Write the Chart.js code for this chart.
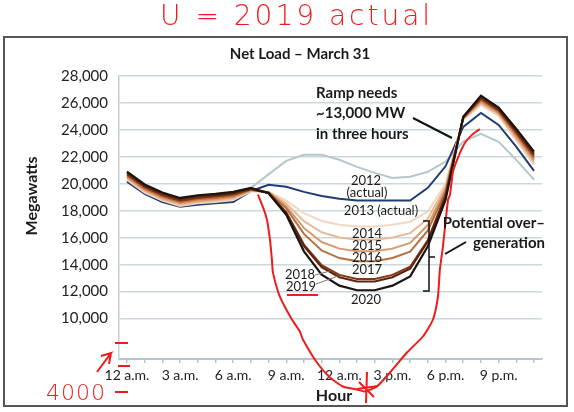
<!DOCTYPE html>
<html>
<head>
<meta charset="utf-8">
<title>Net Load - March 31</title>
<script src="https://cdn.jsdelivr.net/npm/chart.js@4.4.1/dist/chart.umd.min.js"></script>
<style>
    html, body { margin: 0; padding: 0; background: #fff; }
    canvas { display: block; }
</style>
</head>
<body>
<canvas id="duckChart" width="574" height="412"></canvas>
<script>
// Hours of the day and axis labels
const hours = [0, 1, 2, 3, 4, 5, 6, 7, 8, 9, 10, 11, 12, 13, 14, 15, 16, 17, 18, 19, 20, 21, 22, 23];
const hourLabels = ['12 a.m.', '3 a.m.', '6 a.m.', '9 a.m.', '12 a.m.', '3 p.m.', '6 p.m.', '9 p.m.'];
const yTicks = [10000, 12000, 14000, 16000, 18000, 20000, 22000, 24000, 26000, 28000];

// Net load (MW)
const load2012 = [20250, 19300, 18700, 18350, 18500, 18600, 18750, 19700, 20700, 21700, 22150, 22150, 21780, 21260, 20810, 20440, 20520, 20890, 21650, 23130, 23700, 23110, 21780, 20300];
const load2013 = [20150, 19250, 18650, 18300, 18450, 18550, 18650, 19450, 19930, 19780, 19400, 19100, 18900, 18760, 18760, 18760, 18760, 19700, 21300, 24220, 25260, 24370, 22740, 20960];
const load2014 = [20300, 19350, 18750, 18350, 18550, 18650, 18800, 19440, 19420, 18750, 17830, 17240, 16960, 16840, 16840, 16960, 17190, 17950, 20000, 24750, 25850, 25040, 23200, 21410];
const load2015 = [20400, 19450, 18850, 18450, 18650, 18750, 18900, 19480, 19400, 18530, 17230, 16400, 16010, 15850, 15850, 16010, 16340, 17410, 19800, 24800, 25960, 25150, 23350, 21580];
const load2016 = [20500, 19550, 18950, 18550, 18750, 18850, 19000, 19520, 19380, 18340, 16720, 15680, 15190, 14990, 14990, 15190, 15610, 16940, 19600, 24840, 26080, 25250, 23500, 21740];
const load2017 = [20600, 19650, 19050, 18650, 18850, 18950, 19100, 19560, 19360, 18180, 16280, 15060, 14490, 14250, 14250, 14490, 14970, 16540, 19400, 24880, 26200, 25350, 23640, 21900];
const load2018 = [20700, 19750, 19150, 18750, 18950, 19050, 19200, 19600, 19340, 17890, 15490, 13960, 13240, 12940, 12940, 13240, 13850, 15820, 19200, 24920, 26320, 25450, 23790, 22070];
const load2019 = [20800, 19850, 19250, 18850, 19050, 19150, 19300, 19640, 19320, 17850, 15380, 13810, 13070, 12760, 12760, 13070, 13700, 15720, 19000, 24950, 26430, 25550, 23930, 22230];
const load2020 = [20900, 19950, 19350, 18950, 19150, 19250, 19400, 19700, 19300, 17700, 14990, 13260, 12440, 12100, 12100, 12440, 13130, 15360, 18800, 24980, 26540, 25650, 24070, 22390];

// Hand-drawn red "2019 actual" curve (hour, MW)
const actualHours = [7.40, 7.74, 7.91, 8.08, 8.19, 8.25, 8.64, 9.32, 9.77, 9.94, 10.73, 11.47, 12.20, 12.99, 13.45, 14.12, 14.86, 15.82, 16.72, 17.29, 17.57, 17.68, 17.85, 18.14, 18.25, 18.42, 18.70, 19.10, 19.49, 19.94];
const actualLoad = [19190, 18070, 17330, 15850, 14370, 13410, 11630, 9930, 9040, 8440, 6740, 5630, 4960, 4740, 4590, 4960, 6000, 7480, 8670, 9930, 11630, 13630, 15330, 18810, 19180, 20890, 21930, 23040, 23630, 24070];

const FONT = 'Lato, "Open Sans", sans-serif';
const HAND = '"DejaVu Sans", sans-serif';

function toPoints(xs, ys) {
    return xs.map((x, i) => ({ x: x, y: ys[i] }));
}

function series(label, values, color, width) {
    return {
        label: label,
        data: toPoints(hours, values),
        borderColor: color,
        borderWidth: width,
        pointRadius: 0,
        tension: 0,
        fill: false
    };
}

// Text, brackets and the red hand notes
const notesPlugin = {
    id: 'notes',
    beforeDraw(chart) {
        const ctx = chart.ctx;
        ctx.save();
        ctx.fillStyle = '#fff';
        ctx.fillRect(0, 0, chart.width, chart.height);
        ctx.restore();
    },
    afterDraw(chart) {
        const ctx = chart.ctx;
        ctx.save();

        // frame
        ctx.strokeStyle = '#555';
        ctx.lineWidth = 2;
        ctx.strokeRect(4, 37, 563, 369);

        ctx.fillStyle = '#1a1a1a';
        ctx.textBaseline = 'middle';

        // title
        ctx.textAlign = 'center';
        ctx.font = 'bold 15px ' + FONT;
        ctx.fillText('Net Load \u2013 March 31', 300, 54);

        // axis titles
        ctx.font = 'bold 16px ' + FONT;
        ctx.fillText('Hour', 334, 396);
        ctx.save();
        ctx.translate(32, 196);
        ctx.rotate(-Math.PI / 2);
        ctx.fillText('Megawatts', 0, 0);
        ctx.restore();

        // ramp note
        ctx.textAlign = 'left';
        ctx.font = 'bold 15px ' + FONT;
        ctx.fillText('Ramp needs', 316, 93);
        ctx.fillText('~13,000 MW', 316, 113);
        ctx.fillText('in three hours', 316, 134);
        ctx.strokeStyle = '#111';
        ctx.lineWidth = 2;
        ctx.beginPath();
        ctx.moveTo(413, 118);
        ctx.lineTo(452, 138);
        ctx.stroke();

        // over-generation note
        ctx.textAlign = 'right';
        ctx.fillText('Potential over\u2013', 545, 223);
        ctx.fillText('generation', 545, 243);
        ctx.lineWidth = 1.5;
        ctx.beginPath();
        ctx.moveTo(423, 221);
        ctx.lineTo(429, 221);
        ctx.lineTo(429, 291);
        ctx.lineTo(423, 291);
        ctx.moveTo(429, 257);
        ctx.lineTo(435, 257);
        ctx.stroke();
        ctx.lineWidth = 2;
        ctx.beginPath();
        ctx.moveTo(445, 254);
        ctx.lineTo(466, 242);
        ctx.stroke();

        // year labels
        ctx.textAlign = 'center';
        ctx.font = '13px ' + FONT;
        ctx.fillText('2012', 366, 181);
        ctx.fillText('(actual)', 367, 193);
        ctx.fillText('2013 (actual)', 381, 211);
        ctx.fillText('2014', 367, 234);
        ctx.fillText('2015', 367, 246);
        ctx.fillText('2016', 367, 258);
        ctx.fillText('2017', 367, 270);
        ctx.fillText('2020', 366, 300);
        ctx.fillText('2018', 300, 275);
        ctx.fillText('2019', 301, 287);
        ctx.strokeStyle = '#777';
        ctx.lineWidth = 1;
        ctx.beginPath();
        ctx.moveTo(315, 275);
        ctx.lineTo(330, 271);
        ctx.moveTo(316, 284);
        ctx.lineTo(338, 276);
        ctx.stroke();

        // red hand notes
        ctx.strokeStyle = '#ee1c1c';
        ctx.fillStyle = '#ee1c1c';
        ctx.lineWidth = 2;
        ctx.textAlign = 'left';
        ctx.letterSpacing = '3px';
        ctx.font = '200 28px ' + HAND;
        ctx.fillText('U = 2019 actual', 160, 18);
        ctx.letterSpacing = '1px';
        ctx.font = '200 22px ' + HAND;
        ctx.fillText('4000', 46, 394);
        ctx.beginPath();
        ctx.moveTo(287, 295); ctx.lineTo(318, 295);
        ctx.moveTo(115, 343); ctx.lineTo(128, 343);
        ctx.moveTo(118, 366); ctx.lineTo(130, 366);
        ctx.moveTo(115, 392); ctx.lineTo(128, 392);
        // arrow scribble
        ctx.moveTo(97, 372); ctx.lineTo(111, 353);
        ctx.lineTo(101, 356);
        ctx.moveTo(111, 353); ctx.lineTo(109, 364);
        // star near the bottom of the U
        ctx.moveTo(367, 372); ctx.lineTo(366, 403);
        ctx.moveTo(357, 389); ctx.lineTo(378, 386);
        ctx.moveTo(359, 382); ctx.lineTo(374, 397);
        ctx.stroke();

        ctx.restore();
    }
};

const ctx = document.getElementById('duckChart').getContext('2d');
const duckChart = new Chart(ctx, {
    type: 'line',
    data: {
        datasets: [
            {
                label: '2019 actual',
                data: toPoints(actualHours, actualLoad),
                borderColor: '#ee1c1c',
                borderWidth: 2,
                pointRadius: 0,
                tension: 0.2,
                fill: false,
                clip: false
            },
            series('2020', load2020, '#1c1410', 2.2),
            series('2019', load2019, '#5c2410', 2),
            series('2018', load2018, '#8a3412', 2),
            series('2017', load2017, '#b8703f', 2),
            series('2016', load2016, '#d69a6e', 2),
            series('2015', load2015, '#e8bb98', 2),
            series('2014', load2014, '#f3d7c3', 2),
            series('2013 (actual)', load2013, '#1f3d73', 2),
            series('2012 (actual)', load2012, '#b6c7cc', 2)
        ]
    },
    options: {
        responsive: false,
        animation: false,
        devicePixelRatio: 1,
        layout: {
            padding: { top: 76, right: 32, left: 0, bottom: 0 }
        },
        plugins: {
            legend: { display: false },
            tooltip: { enabled: false },
            title: { display: false }
        },
        scales: {
            x: {
                type: 'linear',
                min: -0.45,
                max: 23.45,
                afterFit: scale => { scale.height = 53; },
                afterBuildTicks: scale => {
                    scale.ticks = hours.map(h => ({ value: h }));
                },
                border: { display: true, color: '#b8c6ca', width: 2 },
                grid: {
                    drawOnChartArea: false,
                    drawTicks: true,
                    tickLength: 4,
                    color: '#b8c6ca',
                    lineWidth: 1.5
                },
                ticks: {
                    autoSkip: false,
                    maxRotation: 0,
                    padding: 4,
                    color: '#222',
                    font: { family: FONT, size: 14 },
                    callback: value => (value % 3 === 0 ? hourLabels[value / 3] : '')
                }
            },
            y: {
                type: 'linear',
                min: 7000,
                max: 28000,
                afterFit: scale => { scale.width = 119; },
                afterBuildTicks: scale => {
                    scale.ticks = yTicks.map(v => ({ value: v }));
                },
                border: { display: true, color: '#c3d0d4', width: 1.5 },
                grid: {
                    drawTicks: false,
                    color: '#cbd9dd',
                    lineWidth: 1.5
                },
                ticks: {
                    padding: 11,
                    color: '#222',
                    font: { family: FONT, size: 15 },
                    callback: value => value.toLocaleString('en-US')
                }
            }
        }
    },
    plugins: [notesPlugin]
});
</script>
</body>
</html>
